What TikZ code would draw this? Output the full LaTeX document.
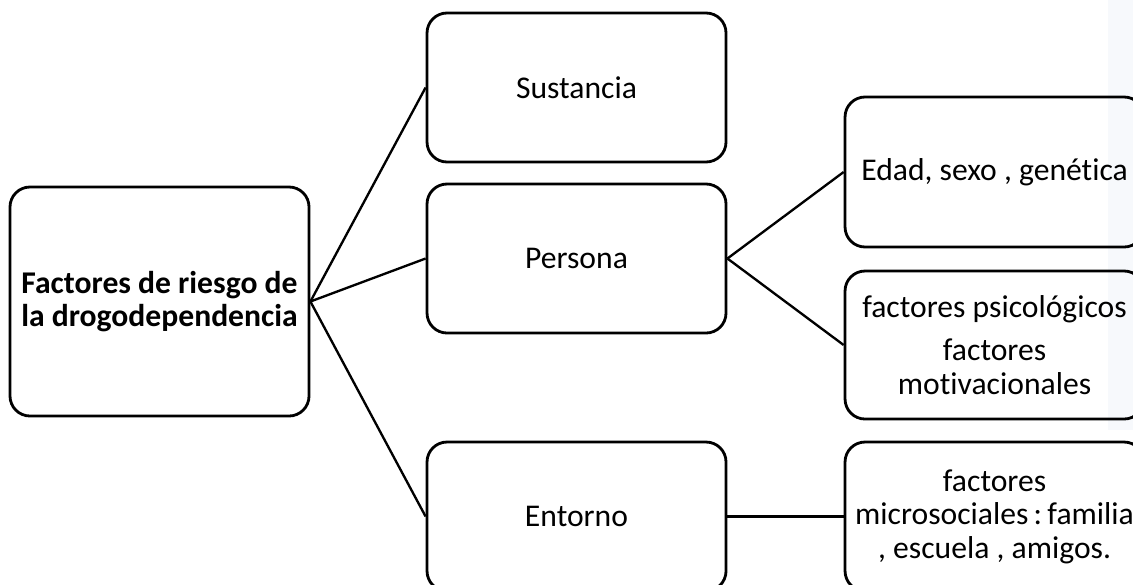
\documentclass[tikz,border=0pt]{standalone}
\usepackage{fontspec}
\setmainfont[RawFeature=-liga]{Carlito}
\usetikzlibrary{positioning}
\tikzset{>=latex}
\tikzstyle{box}=[rectangle,draw=black,line width=2.4pt,rounded corners=0.6cm,inner sep=0pt,align=center,minimum width=8.97cm,minimum height=4.47cm,font=\fontsize{27pt}{28.5pt}\selectfont]
\tikzstyle{link}=[draw=black,line width=2pt]

\begin{document}
\begin{tikzpicture}
\def \px {0.03};
\def \colx {17.295};
\def \rightx {29.835};

\useasboundingbox (0,0) rectangle (1133*\px,-585*\px);
\clip (0,0) rectangle (1133*\px,-585*\px);
\fill[color={rgb,255:red,247;green,249;blue,252}] (1108*\px,0) rectangle (1133*\px,-430*\px);

\node[box,minimum height=6.87cm,font=\bfseries\fontsize{27pt}{28.5pt}\selectfont] (root)
	at (4.785,-9.045) {Factores de riesgo de\\la drogodependencia};

\foreach \n/\y/\t in {sus/-2.625/Sustancia, per/-7.755/Persona, ent/-15.495/Entorno} {
	\node[box] (\n) at (\colx,\y) {\t};
	\draw[link] (root.east) -- (\n.west);
};

\node[box,minimum height=4.5cm] (eda) at (\rightx,-5.16) {Edad, sexo , genética};
\node[box,minimum height=4.44cm] (psi) at (\rightx,-10.35)
	{factores psicológicos\\[0.3cm]factores\\motivacionales};
\node[box] (mic) at (\rightx,-15.495)
	{factores\\microsociales\,:\,familia\\, escuela , amigos.};

\draw[link] (per.east) -- (eda.west);
\draw[link] (per.east) -- (psi.west);
\draw[link] (ent.east) -- (mic.west);

\end{tikzpicture}
\end{document}
